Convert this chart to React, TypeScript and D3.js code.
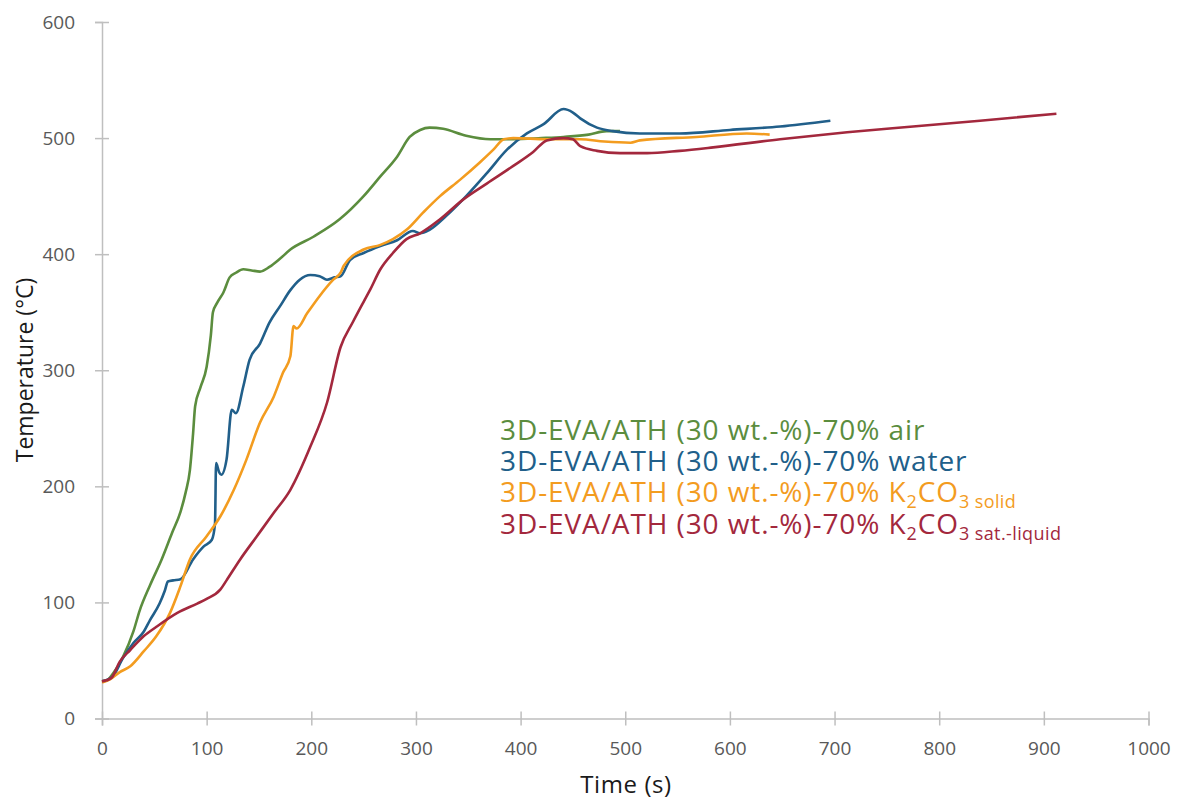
import React, { useRef, useEffect } from 'react';
import * as d3 from 'd3';

// readings: time (s) / temperature (°C)
const airTime = [0, 5, 10, 20, 30, 36, 46, 57, 67, 75, 80, 84, 87, 89, 94, 100, 104, 106, 110, 116, 122, 128, 135, 143, 151, 160, 170, 180, 202, 227, 250, 266, 282, 294, 304, 313, 326, 348, 371, 393, 420, 441, 465, 482, 495];
const airTemp = [32, 33, 38, 53, 75, 93, 115, 137, 160, 178, 195, 214, 245, 269, 285, 303, 330, 350, 358, 367, 380, 384, 387, 386, 385, 389, 396, 404, 415, 430, 450, 467, 484, 501, 507, 509, 508, 502, 499, 499, 500, 501, 503, 506, 506];

const waterTime = [0, 10, 20, 30, 40, 46, 55, 60, 63, 68, 75, 87, 97, 105, 108, 109, 112, 114, 119, 124, 128, 135, 141, 151, 160, 170, 180, 189, 199, 208, 215, 222, 228, 237, 250, 266, 282, 297, 304, 313, 329, 348, 368, 387, 406, 422, 441, 450, 457, 473, 488, 514, 552, 600, 648, 696];
const waterTemp = [32, 36, 52, 65, 75, 85, 99, 110, 118, 119, 120, 137, 148, 154, 168, 220, 212, 210, 223, 266, 263, 286, 309, 323, 341, 355, 369, 378, 382, 381, 378, 380, 381, 395, 401, 407, 412, 420, 418, 421, 433, 450, 470, 490, 504, 512, 525, 522, 517, 509, 506, 504, 504, 507, 510, 515];

const solidTime = [0, 8, 17, 27, 40, 52, 65, 75, 84, 100, 113, 126, 138, 151, 164, 173, 180, 183, 186, 196, 208, 221, 228, 231, 250, 266, 278, 291, 307, 323, 342, 361, 374, 384, 393, 425, 457, 480, 505, 514, 568, 616, 638];
const solidTemp = [31, 34, 40, 45, 58, 71, 91, 114, 137, 157, 174, 197, 223, 255, 277, 298, 312, 338, 336, 349, 364, 378, 384, 390, 404, 408, 413, 421, 436, 450, 464, 479, 490, 499, 500, 499, 499, 497, 496, 498, 501, 504, 503];

const liquidTime = [0, 9, 17, 27, 40, 52, 72, 91, 100, 113, 119, 132, 148, 164, 180, 199, 215, 228, 240, 250, 256, 266, 278, 291, 304, 323, 345, 368, 393, 412, 425, 441, 450, 457, 473, 495, 521, 552, 584, 648, 712, 775, 839, 912];
const liquidTemp = [32, 35, 49, 59, 71, 79, 91, 99, 103, 111, 119, 137, 157, 177, 197, 234, 272, 320, 342, 359, 369, 387, 401, 413, 418, 430, 447, 461, 476, 488, 498, 500, 499, 493, 489, 487, 487, 489, 492, 499, 505, 510, 515, 521];

const xTicks = [0, 100, 200, 300, 400, 500, 600, 700, 800, 900, 1000];
const yTicks = [0, 100, 200, 300, 400, 500, 600];

const series = [
    { name: 'air', color: '#5b8d3e', t: airTime, v: airTemp },
    { name: 'water', color: '#215f8a', t: waterTime, v: waterTemp },
    { name: 'solid', color: '#f39c1f', t: solidTime, v: solidTemp },
    { name: 'liquid', color: '#a3283d', t: liquidTime, v: liquidTemp },
];

const W = 1180;
const H = 802;
const FONT = '"Open Sans", sans-serif';

export default function App() {
    const svgRef = useRef<SVGSVGElement>(null);

    useEffect(() => {
        document.body.style.margin = '0';
        const svg = d3.select(svgRef.current);
        svg.selectAll('*').remove();

        const x = d3.scaleLinear().domain([0, 1000]).range([102, 1148.5]);
        const y = d3.scaleLinear().domain([0, 600]).range([718.5, 22]);

        // Y axis
        svg.append('g').attr('transform', `translate(${x(0)},0)`)
            .call(d3.axisLeft(y).tickValues(yTicks).tickSize(7).tickPadding(20).tickFormat(d3.format('d')))
            .call(s => s.select('.domain').attr('stroke', '#bfbfbf').attr('stroke-width', 1.5))
            .call(s => s.selectAll('.tick line').attr('stroke', '#bfbfbf').attr('stroke-width', 1.5).attr('x1', 7))
            .call(s => s.selectAll('.tick text')
                .attr('fill', '#595959').attr('font-size', '19px').attr('font-family', FONT));

        // X axis
        svg.append('g').attr('transform', `translate(0,${y(0)})`)
            .call(d3.axisBottom(x).tickValues(xTicks).tickSize(7).tickPadding(16).tickFormat(d3.format('d')))
            .call(s => s.select('.domain').attr('stroke', '#bfbfbf').attr('stroke-width', 1.5))
            .call(s => s.selectAll('.tick line').attr('stroke', '#bfbfbf').attr('stroke-width', 1.5).attr('y1', -7))
            .call(s => s.selectAll('.tick text')
                .attr('fill', '#595959').attr('font-size', '19px').attr('font-family', FONT));

        // Lines
        const line = d3.line<[number, number]>()
            .x(d => x(d[0]))
            .y(d => y(d[1]))
            .curve(d3.curveMonotoneX);

        series.forEach(s => {
            const pts = s.t.map((t, i) => [t, s.v[i]] as [number, number]);
            svg.append('path')
                .attr('d', line(pts))
                .attr('fill', 'none')
                .attr('stroke', s.color)
                .attr('stroke-width', 2.6)
                .attr('stroke-linejoin', 'round');
        });

        // Axis titles
        svg.append('text')
            .attr('x', 626).attr('y', 793)
            .attr('text-anchor', 'middle')
            .attr('font-family', FONT).attr('font-size', '24px').attr('letter-spacing', '0.6px').attr('fill', '#1a1a1a')
            .text('Time (s)');
        svg.append('text')
            .attr('transform', 'translate(33,370) rotate(-90)')
            .attr('text-anchor', 'middle')
            .attr('font-family', FONT).attr('font-size', '23px').attr('fill', '#1a1a1a')
            .text('Temperature (°C)');

        // Legend text
        const legend = [
            { color: series[0].color, main: '3D-EVA/ATH (30 wt.-%)-70% air', chem: false, tail: '' },
            { color: series[1].color, main: '3D-EVA/ATH (30 wt.-%)-70% water', chem: false, tail: '' },
            { color: series[2].color, main: '3D-EVA/ATH (30 wt.-%)-70% K', chem: true, tail: 'solid' },
            { color: series[3].color, main: '3D-EVA/ATH (30 wt.-%)-70% K', chem: true, tail: 'sat.-liquid' },
        ];
        legend.forEach((l, i) => {
            const t = svg.append('text')
                .attr('x', 500).attr('y', 440 + i * 31.2)
                .attr('font-family', FONT).attr('font-size', '28px').attr('letter-spacing', '0.9px')
                .attr('fill', l.color);
            t.append('tspan').text(l.main);
            if (l.chem) {
                t.append('tspan').attr('font-size', '18px').attr('dy', 6).text('2');
                t.append('tspan').attr('dy', -6).text('CO');
                t.append('tspan').attr('font-size', '18px').attr('dy', 6).attr('letter-spacing', '0.4px').text('3 ' + l.tail);
            }
        });
    }, []);

    return (
        <div style={{ position: 'absolute', left: 0, top: 0 }}>
            <svg ref={svgRef} width={W} height={H} style={{ display: 'block', background: '#fff' }} />
        </div>
    );
}
